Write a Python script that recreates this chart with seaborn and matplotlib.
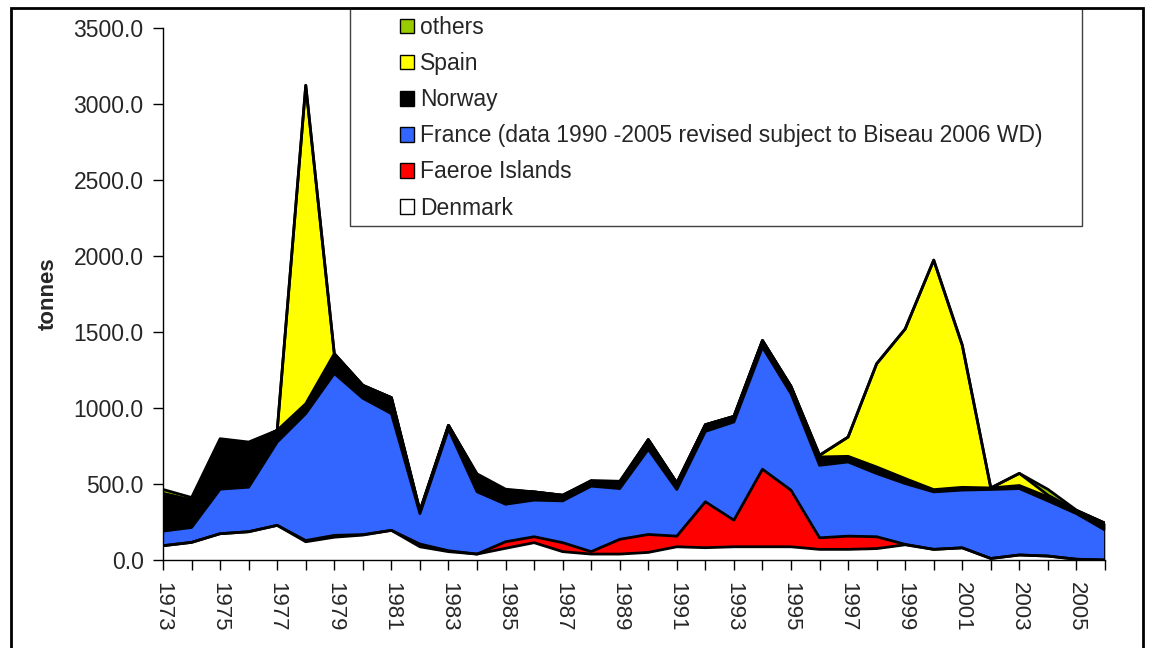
import numpy as np
import pandas as pd
import seaborn as sns
import matplotlib.pyplot as plt
from matplotlib.patches import Patch, Rectangle

# Estilo
sns.set_theme(style='white')
plt.rcParams['font.family'] = ['Liberation Sans', 'DejaVu Sans']

# Dados (tonnes por ano)
years = list(range(1973, 2007))
denmark = [94, 116, 173, 186, 228, 120, 150, 164, 195, 87, 55, 39, 77, 114, 55, 39, 39,
           50, 87, 81, 87, 87, 87, 70, 70, 75, 100, 70, 80, 10, 33, 26, 5, 0]
faroe = [0, 0, 0, 0, 0, 8, 12, 3, 0, 18, 6, 0, 43, 39, 59, 16, 97,
         118, 70, 302, 175, 510, 372, 76, 87, 78, 3, 0, 0, 0, 0, 0, 0, 0]
france = [96, 98, 293, 293, 548, 835, 1065, 897, 768, 200, 800, 410, 247, 241, 275, 431, 334,
          560, 307, 463, 646, 803, 635, 477, 488, 416, 400, 378, 380, 454, 437, 363, 300, 197]
norway = [247, 180, 317, 282, 77, 65, 130, 85, 105, 18, 25, 110, 92, 54, 37, 32, 40,
          64, 43, 44, 37, 44, 48, 55, 37, 43, 33, 15, 18, 10, 20, 26, 20, 45]
spain = [0, 0, 0, 0, 0, 2095, 0, 0, 0, 0, 0, 0, 0, 0, 0, 0, 0,
         0, 0, 0, 0, 0, 0, 11, 127, 679, 984, 1510, 935, 0, 80, 12, 0, 0]
others = [27, 17, 15, 15, 0, 0, 0, 0, 0, 0, 0, 8, 7, 0, 0, 5, 8,
          0, 0, 0, 0, 0, 0, 0, 0, 0, 0, 0, 0, 0, 0, 38, 3, 0]

series = ['Denmark', 'Faeroe Islands',
          'France (data 1990 -2005 revised subject to Biseau 2006 WD)',
          'Norway', 'Spain', 'others']
colors = ['#FFFFFF', '#FF0000', '#3366FF', '#000000', '#FFFF00', '#99CC00']

df = pd.DataFrame(dict(zip(series, [denmark, faroe, france, norway, spain, others])), index=years)
cum = df.cumsum(axis=1)

fig = plt.figure(figsize=(11.49, 6.48), dpi=100)
ax = fig.add_axes([0.1419, 0.1358, 0.8198, 0.821])

# Áreas empilhadas
lower = np.zeros(len(years))
for name, col in zip(series, colors):
    upper = cum[name].values
    ax.fill_between(years, lower, upper, color=col, linewidth=0)
    lower = upper

# Contornos pretos
for name in series:
    sns.lineplot(x=years, y=cum[name].values, color='black', lw=2.0, ax=ax)
ax.vlines(years[-1], 0, cum[series[-1]].iloc[-1], color='black', lw=2.0)

ax.set_xlim(years[0], years[-1])
ax.set_ylim(0, 3500)
ax.set_yticks(np.arange(0, 3501, 500))
ax.set_yticklabels([f'{v:.1f}' for v in np.arange(0, 3501, 500)], fontsize=16.5)
ax.set_xticks(years)
ax.set_xticklabels([str(y) if (y - years[0]) % 2 == 0 else '' for y in years],
                   rotation=270, fontsize=16)
ax.tick_params(axis='both', direction='out', length=7, width=1, color='black',
               bottom=True, left=True)
ax.tick_params(axis='y', pad=7)
ax.tick_params(axis='x', pad=9)
for s in ['top', 'right']:
    ax.spines[s].set_visible(False)
for s in ['left', 'bottom']:
    ax.spines[s].set_color('black')
    ax.spines[s].set_linewidth(1)

ax.set_ylabel('tonnes', fontsize=16, fontweight='bold')
ax.yaxis.set_label_coords(-0.111, 0.5)

# Legenda
handles = [Patch(facecolor=c, edgecolor='black', lw=1) for c in colors[::-1]]
fig.legend(handles, series[::-1], loc='upper left', bbox_to_anchor=(0.348, 0.975),
           frameon=False, fontsize=16.5, handlelength=0.6, handleheight=0.6,
           handletextpad=0.3, labelspacing=0.57, borderpad=0, borderaxespad=0)
fig.add_artist(Rectangle((350 / 1149, 1 - 226 / 648), 732 / 1149, 218 / 648,
                         transform=fig.transFigure, fill=False, edgecolor='#404040', lw=1))

# Borda do gráfico
fig.add_artist(Rectangle((11 / 1149, -0.1), 1132 / 1149, 1.0877,
                         transform=fig.transFigure, fill=False, edgecolor='black', lw=2))

fig.savefig('out.png', dpi=100)
